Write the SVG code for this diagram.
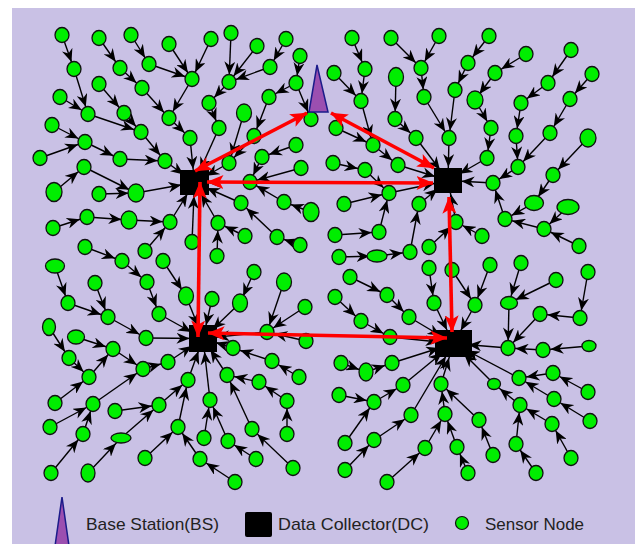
<svg xmlns="http://www.w3.org/2000/svg" width="635" height="544" viewBox="0 0 635 544">
<style>
.c path{stroke:#000;stroke-width:1.4;fill:none}
.s ellipse{fill:#00EE00;stroke:#111;stroke-width:1.3}
.dc rect{fill:#000}
.red path{stroke:#FF0000;stroke-width:3.6;fill:none;marker-start:url(#rh);marker-end:url(#rh)}
.lg{font-family:"Liberation Sans","Open Sans",Arial,sans-serif;font-size:17px;fill:#222}
</style>
<defs>
<marker id="ah" viewBox="0 0 21 11" markerWidth="21" markerHeight="11" refX="20.5" refY="5.5" orient="auto" markerUnits="userSpaceOnUse"><path d="M0,0 L13,5.5 L0,11 L4,5.5 z" fill="#000"/></marker>
<marker id="ad" viewBox="0 0 27 11" markerWidth="27" markerHeight="11" refX="26.5" refY="5.5" orient="auto" markerUnits="userSpaceOnUse"><path d="M0,0 L13,5.5 L0,11 L4,5.5 z" fill="#000"/></marker>
<marker id="ae" viewBox="0 0 28 11" markerWidth="28" markerHeight="11" refX="28" refY="5.5" orient="auto" markerUnits="userSpaceOnUse"><path d="M0,0 L13,5.5 L0,11 L4,5.5 z" fill="#000"/></marker>
<marker id="rh" viewBox="0 0 17 14" markerWidth="17" markerHeight="14" refX="16.5" refY="7" orient="auto-start-reverse" markerUnits="userSpaceOnUse"><path d="M0,0 L17,7 L0,14 L4,7 z" fill="#FF0000"/></marker>
</defs>
<rect x="0" y="0" width="635" height="544" fill="#FFFFFF"/>
<rect x="12" y="8" width="623" height="536" fill="#C9C1E5"/>

<g id="connectors" class="c">
<g marker-end="url(#ah)">
<path d="M62 35L74 69"/><path d="M74 69L88 114"/><path d="M99 38L120 68"/><path d="M120 68L142 88"/>
<path d="M131 35L149 64"/><path d="M149 64L192 79"/><path d="M169 44L192 79"/><path d="M211 39L192 79"/>
<path d="M192 79L169 118"/><path d="M142 88L169 118"/><path d="M60 97L88 114"/><path d="M99 84L124 113"/>
<path d="M124 113L141 132"/><path d="M88 114L141 132"/><path d="M169 118L190 138"/><path d="M141 132L165 161"/>
<path d="M52 125L85 142"/><path d="M40 158L85 142"/><path d="M85 142L120 159"/><path d="M120 159L165 161"/>
<path d="M54 192L84 167"/><path d="M84 167L136 193"/><path d="M99 194L136 193"/><path d="M53 228L87 217"/>
<path d="M87 217L129 220"/><path d="M129 220L170 222"/><path d="M145 251L170 222"/><path d="M85 247L122 261"/>
<path d="M209 103L219 128"/><path d="M217 256L218 223"/>
<path d="M231 33L229 82"/><path d="M257 46L229 82"/><path d="M270 67L229 82"/><path d="M286 39L270 67"/>
<path d="M229 82L209 103"/><path d="M300 56L296 83"/><path d="M296 83L269 97"/><path d="M296 83L311 119"/>
<path d="M269 97L254 136"/><path d="M244 113L229 163"/><path d="M254 136L229 163"/><path d="M262 157L250 182"/>
<path d="M296 145L262 157"/><path d="M301 168L250 182"/><path d="M284 202L250 182"/><path d="M311 212L284 202"/>
<path d="M277 237L241 203"/><path d="M300 245L277 237"/><path d="M245 236L218 223"/>
<path d="M352 38L365 69"/><path d="M365 69L361 101"/><path d="M334 73L361 101"/><path d="M361 101L373 145"/>
<path d="M336 128L373 145"/><path d="M391 38L421 68"/><path d="M396 77L395 119"/><path d="M395 119L416 138"/>
<path d="M421 68L424 97"/><path d="M373 145L398 165"/><path d="M333 163L365 170"/><path d="M365 170L389 193"/>
<path d="M344 204L389 193"/><path d="M379 232L389 193"/><path d="M335 235L379 232"/><path d="M410 252L419 204"/>
<path d="M377 256L410 252"/><path d="M339 257L377 256"/>
<path d="M439 36L421 68"/><path d="M489 36L468 63"/><path d="M468 63L455 90"/><path d="M455 90L449 138"/>
<path d="M424 97L449 138"/><path d="M526 54L495 73"/><path d="M495 73L475 100"/><path d="M475 100L491 128"/>
<path d="M491 128L487 158"/><path d="M571 50L548 83"/><path d="M548 83L521 103"/><path d="M521 103L516 136"/>
<path d="M516 136L518 167"/><path d="M592 74L570 99"/><path d="M570 99L550 133"/><path d="M550 133L518 167"/>
<path d="M518 167L493 183"/><path d="M588 138L553 175"/><path d="M553 175L534 203"/><path d="M534 203L505 219"/>
<path d="M568 207L544 229"/><path d="M544 229L505 219"/><path d="M505 219L493 183"/><path d="M579 246L544 229"/>
<path d="M482 236L456 222"/><path d="M429 247L456 222"/>
<path d="M55 266L68 303"/><path d="M95 283L108 317"/><path d="M68 303L108 317"/><path d="M108 317L146 338"/>
<path d="M122 261L147 282"/><path d="M147 282L159 314"/><path d="M163 261L186 296"/><path d="M49 327L69 358"/>
<path d="M76 337L113 349"/><path d="M113 349L143 369"/><path d="M69 358L89 377"/><path d="M89 377L113 349"/>
<path d="M143 369L168 362"/><path d="M55 403L89 377"/><path d="M50 427L93 404"/><path d="M93 404L143 369"/>
<path d="M83 434L93 404"/><path d="M88 473L121 438"/><path d="M51 473L83 434"/><path d="M121 438L159 405"/>
<path d="M115 411L159 405"/><path d="M159 405L188 380"/><path d="M145 458L178 427"/><path d="M178 427L188 380"/>
<path d="M200 459L178 427"/><path d="M204 438L210 400"/>
<path d="M254 272L240 303"/><path d="M284 282L267 332"/><path d="M305 307L267 332"/><path d="M306 341L267 332"/>
<path d="M272 361L233 348"/><path d="M299 377L272 361"/><path d="M259 382L227 375"/><path d="M287 401L259 382"/>
<path d="M287 434L287 401"/><path d="M252 429L227 375"/><path d="M228 441L210 400"/><path d="M256 459L228 441"/>
<path d="M293 468L252 429"/><path d="M235 482L200 459"/>
<path d="M350 277L387 295"/><path d="M387 295L409 317"/><path d="M335 297L361 321"/><path d="M361 321L390 337"/>
<path d="M341 363L366 372"/><path d="M366 372L392 363"/><path d="M339 395L374 402"/><path d="M374 402L403 385"/>
<path d="M345 443L374 402"/><path d="M345 470L374 440"/><path d="M374 440L411 415"/><path d="M387 482L425 448"/>
<path d="M425 448L445 414"/>
<path d="M429 268L434 303"/><path d="M452 270L475 305"/><path d="M490 265L475 305"/><path d="M521 263L509 303"/>
<path d="M556 280L509 303"/><path d="M509 303L508 348"/><path d="M540 314L508 348"/><path d="M580 318L540 314"/>
<path d="M588 272L580 318"/><path d="M589 346L543 350"/><path d="M543 350L508 348"/><path d="M553 373L519 378"/>
<path d="M588 392L553 373"/><path d="M554 399L519 378"/><path d="M590 421L554 399"/><path d="M520 405L494 384"/>
<path d="M552 424L520 405"/><path d="M571 458L552 424"/><path d="M516 444L520 405"/><path d="M536 473L516 444"/>
<path d="M445 414L441 384"/><path d="M479 420L441 384"/><path d="M457 447L445 414"/><path d="M468 473L457 447"/>
<path d="M493 455L479 420"/>
</g>
<g marker-end="url(#ad)">
<path d="M190 138L194.5 182.5"/><path d="M165 161L194.5 182.5"/><path d="M136 193L194.5 182.5"/><path d="M170 222L194.5 182.5"/>
<path d="M192 242L194.5 182.5"/><path d="M218 223L194.5 182.5"/><path d="M219 128L194.5 182.5"/><path d="M229 163L194.5 182.5"/>
<path d="M250 182L194.5 182.5"/><path d="M241 203L194.5 182.5"/>
<path d="M416 138L448 180.5"/><path d="M398 165L448 180.5"/><path d="M389 193L448 180.5"/><path d="M419 204L448 180.5"/>
<path d="M487 158L448 180.5"/><path d="M449 138L448 180.5"/><path d="M493 183L448 180.5"/><path d="M456 222L448 180.5"/>
<path d="M186 296L203 338.5"/><path d="M159 314L203 338.5"/><path d="M146 338L203 338.5"/><path d="M168 362L203 338.5"/>
<path d="M188 380L203 338.5"/><path d="M210 400L203 338.5"/><path d="M212 299L203 338.5"/><path d="M240 303L203 338.5"/>
<path d="M267 332L203 338.5"/><path d="M233 348L203 338.5"/><path d="M227 375L203 338.5"/>
</g>
<g marker-end="url(#ae)">
<path d="M409 317L453.5 343.5"/><path d="M390 337L453.5 343.5"/><path d="M392 363L453.5 343.5"/><path d="M403 385L453.5 343.5"/>
<path d="M411 415L453.5 343.5"/><path d="M434 303L453.5 343.5"/><path d="M475 305L453.5 343.5"/><path d="M508 348L453.5 343.5"/>
<path d="M519 378L453.5 343.5"/><path d="M494 384L453.5 343.5"/><path d="M441 384L453.5 343.5"/>
</g>
</g>

<g id="sensors" class="s">
<g id="a1"><ellipse cx="62" cy="35" rx="7" ry="7.5"/></g>
<g id="a2"><ellipse cx="74" cy="69" rx="7" ry="7.5"/></g>
<g id="a3"><ellipse cx="99" cy="38" rx="7" ry="7.5"/></g>
<g id="a4"><ellipse cx="120" cy="68" rx="7" ry="7.5"/></g>
<g id="a5"><ellipse cx="131" cy="35" rx="7" ry="7.5"/></g>
<g id="a6"><ellipse cx="149" cy="64" rx="7" ry="7.5"/></g>
<g id="a7"><ellipse cx="169" cy="44" rx="7" ry="7.5"/></g>
<g id="a8"><ellipse cx="211" cy="39" rx="7" ry="7.5"/></g>
<g id="a9"><ellipse cx="192" cy="79" rx="7" ry="7.5"/></g>
<g id="a10"><ellipse cx="60" cy="97" rx="7" ry="7.5"/></g>
<g id="a11"><ellipse cx="88" cy="114" rx="7" ry="7.5"/></g>
<g id="a12"><ellipse cx="99" cy="84" rx="7" ry="7.5"/></g>
<g id="a13"><ellipse cx="124" cy="113" rx="7" ry="7.5"/></g>
<g id="a14"><ellipse cx="142" cy="88" rx="7" ry="7.5"/></g>
<g id="a15"><ellipse cx="169" cy="118" rx="7" ry="7.5"/></g>
<g id="a16"><ellipse cx="209" cy="103" rx="7" ry="7.5"/></g>
<g id="a17"><ellipse cx="52" cy="125" rx="7" ry="7.5"/></g>
<g id="a18"><ellipse cx="85" cy="142" rx="7" ry="7.5"/></g>
<g id="a19"><ellipse cx="141" cy="132" rx="7" ry="7.5"/></g>
<g id="a20"><ellipse cx="190" cy="138" rx="7" ry="7.5"/></g>
<g id="a21"><ellipse cx="40" cy="158" rx="7" ry="7.5"/></g>
<g id="a22"><ellipse cx="120" cy="159" rx="7" ry="7.5"/></g>
<g id="a23"><ellipse cx="165" cy="161" rx="7" ry="7.5"/></g>
<g id="a24"><ellipse cx="84" cy="167" rx="7" ry="7.5"/></g>
<g id="a25"><ellipse cx="54" cy="192" rx="8" ry="9.5"/></g>
<g id="a26"><ellipse cx="99" cy="194" rx="7" ry="7.5"/></g>
<g id="a27"><ellipse cx="136" cy="193" rx="8" ry="9"/></g>
<g id="a28"><ellipse cx="53" cy="228" rx="7" ry="7.5"/></g>
<g id="a29"><ellipse cx="87" cy="217" rx="7" ry="7.5"/></g>
<g id="a30"><ellipse cx="129" cy="220" rx="8" ry="9"/></g>
<g id="a31"><ellipse cx="170" cy="222" rx="7" ry="7.5"/></g>
<g id="a32"><ellipse cx="85" cy="247" rx="7" ry="7.5"/></g>
<g id="a33"><ellipse cx="145" cy="251" rx="7" ry="7.5"/></g>
<g id="a34"><ellipse cx="192" cy="242" rx="7" ry="7.5"/></g>
<g id="a35"><ellipse cx="218" cy="223" rx="7" ry="7.5"/></g>
<g id="a36"><ellipse cx="219" cy="128" rx="7" ry="7.5"/></g>
<g id="a37"><ellipse cx="217" cy="256" rx="7" ry="7.5"/></g>
<g id="b2"><ellipse cx="231" cy="33" rx="7" ry="7.5"/></g>
<g id="b3"><ellipse cx="257" cy="46" rx="7" ry="7.5"/></g>
<g id="b4"><ellipse cx="286" cy="39" rx="7" ry="7.5"/></g>
<g id="b5"><ellipse cx="300" cy="56" rx="7" ry="7.5"/></g>
<g id="b6"><ellipse cx="229" cy="82" rx="7" ry="7.5"/></g>
<g id="b7"><ellipse cx="270" cy="67" rx="7" ry="7.5"/></g>
<g id="b8"><ellipse cx="269" cy="97" rx="7" ry="7.5"/></g>
<g id="b9"><ellipse cx="296" cy="83" rx="7" ry="7.5"/></g>
<g id="b10"><ellipse cx="244" cy="113" rx="7.5" ry="9"/></g>
<g id="b13"><ellipse cx="254" cy="136" rx="7" ry="7.5"/></g>
<g id="b14"><ellipse cx="311" cy="119" rx="7" ry="7.5"/></g>
<g id="b15"><ellipse cx="336" cy="128" rx="7" ry="7.5"/></g>
<g id="b16"><ellipse cx="229" cy="163" rx="7" ry="7.5"/></g>
<g id="b17"><ellipse cx="262" cy="157" rx="7" ry="7.5"/></g>
<g id="b18"><ellipse cx="296" cy="145" rx="7" ry="7.5"/></g>
<g id="b19"><ellipse cx="301" cy="168" rx="7" ry="7.5"/></g>
<g id="b20"><ellipse cx="250" cy="182" rx="7" ry="7.5"/></g>
<g id="b21"><ellipse cx="241" cy="203" rx="7" ry="7.5"/></g>
<g id="b22"><ellipse cx="284" cy="202" rx="7" ry="7.5"/></g>
<g id="b23"><ellipse cx="311" cy="212" rx="8" ry="9.5"/></g>
<g id="b25"><ellipse cx="245" cy="236" rx="7" ry="7.5"/></g>
<g id="b26"><ellipse cx="277" cy="237" rx="7" ry="7.5"/></g>
<g id="b27"><ellipse cx="300" cy="245" rx="7" ry="7.5"/></g>
<g id="b29"><ellipse cx="352" cy="38" rx="7" ry="7.5"/></g>
<g id="b30"><ellipse cx="365" cy="69" rx="7" ry="7.5"/></g>
<g id="b31"><ellipse cx="334" cy="73" rx="7" ry="7.5"/></g>
<g id="b32"><ellipse cx="361" cy="101" rx="7" ry="7.5"/></g>
<g id="b33"><ellipse cx="391" cy="38" rx="7" ry="7.5"/></g>
<g id="b34"><ellipse cx="396" cy="77" rx="7.5" ry="9.5"/></g>
<g id="b35"><ellipse cx="421" cy="68" rx="7" ry="7.5"/></g>
<g id="b36"><ellipse cx="395" cy="119" rx="7" ry="7.5"/></g>
<g id="b37"><ellipse cx="416" cy="138" rx="7" ry="7.5"/></g>
<g id="b38"><ellipse cx="373" cy="145" rx="7" ry="7.5"/></g>
<g id="b39"><ellipse cx="333" cy="163" rx="7" ry="7.5"/></g>
<g id="b40"><ellipse cx="365" cy="170" rx="7" ry="7.5"/></g>
<g id="b41"><ellipse cx="398" cy="165" rx="7" ry="7.5"/></g>
<g id="b42"><ellipse cx="389" cy="193" rx="7" ry="7.5"/></g>
<g id="b43"><ellipse cx="344" cy="204" rx="7" ry="7.5"/></g>
<g id="b44"><ellipse cx="419" cy="204" rx="7" ry="7.5"/></g>
<g id="b45"><ellipse cx="379" cy="232" rx="7" ry="7.5"/></g>
<g id="b46"><ellipse cx="335" cy="235" rx="7" ry="7.5"/></g>
<g id="b47"><ellipse cx="410" cy="252" rx="7" ry="7.5"/></g>
<g id="b48"><ellipse cx="377" cy="256" rx="10" ry="6"/></g>
<g id="b49"><ellipse cx="339" cy="257" rx="7" ry="7.5"/></g>
<g id="c1"><ellipse cx="439" cy="36" rx="7" ry="7.5"/></g>
<g id="c2"><ellipse cx="489" cy="36" rx="7" ry="7.5"/></g>
<g id="c4"><ellipse cx="468" cy="63" rx="7" ry="7.5"/></g>
<g id="c5"><ellipse cx="455" cy="90" rx="7" ry="7.5"/></g>
<g id="c6"><ellipse cx="495" cy="73" rx="7" ry="7.5"/></g>
<g id="c7"><ellipse cx="526" cy="54" rx="7" ry="7.5"/></g>
<g id="c8"><ellipse cx="571" cy="50" rx="7" ry="7.5"/></g>
<g id="c9"><ellipse cx="548" cy="83" rx="7" ry="7.5"/></g>
<g id="c10"><ellipse cx="592" cy="74" rx="7" ry="7.5"/></g>
<g id="c11"><ellipse cx="424" cy="97" rx="7" ry="7.5"/></g>
<g id="c12"><ellipse cx="475" cy="100" rx="8" ry="9"/></g>
<g id="c13"><ellipse cx="521" cy="103" rx="7" ry="7.5"/></g>
<g id="c14"><ellipse cx="570" cy="99" rx="7" ry="7.5"/></g>
<g id="c15"><ellipse cx="449" cy="138" rx="7" ry="7.5"/></g>
<g id="c16"><ellipse cx="491" cy="128" rx="7" ry="7.5"/></g>
<g id="c17"><ellipse cx="516" cy="136" rx="7" ry="7.5"/></g>
<g id="c18"><ellipse cx="550" cy="133" rx="7" ry="7.5"/></g>
<g id="c19"><ellipse cx="588" cy="138" rx="8" ry="9"/></g>
<g id="c20"><ellipse cx="487" cy="158" rx="7" ry="7.5"/></g>
<g id="c21"><ellipse cx="518" cy="167" rx="7" ry="7.5"/></g>
<g id="c22"><ellipse cx="553" cy="175" rx="7" ry="7.5"/></g>
<g id="c23"><ellipse cx="493" cy="183" rx="7" ry="7.5"/></g>
<g id="c24"><ellipse cx="534" cy="203" rx="9.5" ry="7.5"/></g>
<g id="c25"><ellipse cx="568" cy="207" rx="11" ry="7.5"/></g>
<g id="c26"><ellipse cx="505" cy="219" rx="7" ry="7.5"/></g>
<g id="c27"><ellipse cx="544" cy="229" rx="7" ry="7.5"/></g>
<g id="c28"><ellipse cx="579" cy="246" rx="7" ry="7.5"/></g>
<g id="c29"><ellipse cx="456" cy="222" rx="7" ry="7.5"/></g>
<g id="c30"><ellipse cx="482" cy="236" rx="7" ry="7.5"/></g>
<g id="c31"><ellipse cx="429" cy="247" rx="7" ry="7.5"/></g>
<g id="d1"><ellipse cx="55" cy="266" rx="9.5" ry="7"/></g>
<g id="d2"><ellipse cx="95" cy="283" rx="7" ry="7.5"/></g>
<g id="d3"><ellipse cx="122" cy="261" rx="7" ry="7.5"/></g>
<g id="d4"><ellipse cx="147" cy="282" rx="7" ry="7.5"/></g>
<g id="d5"><ellipse cx="163" cy="261" rx="7" ry="7.5"/></g>
<g id="d6"><ellipse cx="186" cy="296" rx="7.5" ry="9"/></g>
<g id="d7"><ellipse cx="212" cy="299" rx="7" ry="7.5"/></g>
<g id="d8"><ellipse cx="68" cy="303" rx="7" ry="7.5"/></g>
<g id="d9"><ellipse cx="108" cy="317" rx="7" ry="7.5"/></g>
<g id="d10"><ellipse cx="159" cy="314" rx="7" ry="7.5"/></g>
<g id="d11"><ellipse cx="49" cy="327" rx="6.5" ry="8.5"/></g>
<g id="d12"><ellipse cx="76" cy="337" rx="8.5" ry="7"/></g>
<g id="d13"><ellipse cx="146" cy="338" rx="7" ry="7.5"/></g>
<g id="d14"><ellipse cx="113" cy="349" rx="7" ry="7.5"/></g>
<g id="d15"><ellipse cx="69" cy="358" rx="7" ry="7.5"/></g>
<g id="d16"><ellipse cx="89" cy="377" rx="7" ry="7.5"/></g>
<g id="d17"><ellipse cx="143" cy="369" rx="7" ry="7.5"/></g>
<g id="d18"><ellipse cx="168" cy="362" rx="7" ry="7.5"/></g>
<g id="d19"><ellipse cx="55" cy="403" rx="7" ry="7.5"/></g>
<g id="d20"><ellipse cx="93" cy="404" rx="7" ry="7.5"/></g>
<g id="d21"><ellipse cx="115" cy="411" rx="7" ry="7.5"/></g>
<g id="d22"><ellipse cx="159" cy="405" rx="7" ry="7.5"/></g>
<g id="d23"><ellipse cx="188" cy="380" rx="7" ry="7.5"/></g>
<g id="d24"><ellipse cx="210" cy="400" rx="7" ry="7.5"/></g>
<g id="d25"><ellipse cx="50" cy="427" rx="7" ry="7.5"/></g>
<g id="d26"><ellipse cx="83" cy="434" rx="7" ry="7.5"/></g>
<g id="d27"><ellipse cx="121" cy="438" rx="10" ry="5"/></g>
<g id="d28"><ellipse cx="178" cy="427" rx="7" ry="7.5"/></g>
<g id="d29"><ellipse cx="204" cy="438" rx="7" ry="7.5"/></g>
<g id="d30"><ellipse cx="145" cy="458" rx="7" ry="7.5"/></g>
<g id="d31"><ellipse cx="200" cy="459" rx="7" ry="7.5"/></g>
<g id="d32"><ellipse cx="51" cy="473" rx="7" ry="7.5"/></g>
<g id="d33"><ellipse cx="88" cy="473" rx="7" ry="9"/></g>
<g id="e2"><ellipse cx="254" cy="272" rx="7" ry="7.5"/></g>
<g id="e3"><ellipse cx="284" cy="282" rx="7.5" ry="9"/></g>
<g id="e5"><ellipse cx="240" cy="303" rx="7.5" ry="9"/></g>
<g id="e6"><ellipse cx="305" cy="307" rx="7" ry="7.5"/></g>
<g id="e7"><ellipse cx="267" cy="332" rx="7" ry="7.5"/></g>
<g id="e8"><ellipse cx="306" cy="341" rx="7" ry="7.5"/></g>
<g id="e9"><ellipse cx="233" cy="348" rx="7" ry="7.5"/></g>
<g id="e10"><ellipse cx="272" cy="361" rx="7" ry="7.5"/></g>
<g id="e11"><ellipse cx="299" cy="377" rx="7" ry="7.5"/></g>
<g id="e12"><ellipse cx="227" cy="375" rx="7" ry="7.5"/></g>
<g id="e13"><ellipse cx="259" cy="382" rx="7" ry="7.5"/></g>
<g id="e15"><ellipse cx="287" cy="401" rx="7" ry="7.5"/></g>
<g id="e16"><ellipse cx="252" cy="429" rx="7" ry="7.5"/></g>
<g id="e17"><ellipse cx="287" cy="434" rx="7" ry="7.5"/></g>
<g id="e18"><ellipse cx="228" cy="441" rx="7" ry="7.5"/></g>
<g id="e19"><ellipse cx="256" cy="459" rx="7" ry="7.5"/></g>
<g id="e20"><ellipse cx="293" cy="468" rx="7" ry="7.5"/></g>
<g id="e21"><ellipse cx="235" cy="482" rx="7" ry="7.5"/></g>
<g id="e25"><ellipse cx="350" cy="277" rx="7" ry="7.5"/></g>
<g id="e26"><ellipse cx="387" cy="295" rx="7" ry="7.5"/></g>
<g id="e27"><ellipse cx="409" cy="317" rx="7" ry="7.5"/></g>
<g id="e28"><ellipse cx="335" cy="297" rx="7" ry="7.5"/></g>
<g id="e29"><ellipse cx="361" cy="321" rx="7" ry="7.5"/></g>
<g id="e30"><ellipse cx="390" cy="337" rx="7" ry="7.5"/></g>
<g id="e31"><ellipse cx="341" cy="363" rx="7" ry="7.5"/></g>
<g id="e32"><ellipse cx="366" cy="372" rx="7" ry="9"/></g>
<g id="e33"><ellipse cx="392" cy="363" rx="7" ry="7.5"/></g>
<g id="e34"><ellipse cx="403" cy="385" rx="7" ry="7.5"/></g>
<g id="e35"><ellipse cx="339" cy="395" rx="7" ry="7.5"/></g>
<g id="e36"><ellipse cx="374" cy="402" rx="7" ry="7.5"/></g>
<g id="e37"><ellipse cx="411" cy="415" rx="7" ry="7.5"/></g>
<g id="e38"><ellipse cx="345" cy="443" rx="7" ry="7.5"/></g>
<g id="e39"><ellipse cx="374" cy="440" rx="7" ry="7.5"/></g>
<g id="e40"><ellipse cx="345" cy="470" rx="7" ry="7.5"/></g>
<g id="e41"><ellipse cx="387" cy="482" rx="7" ry="7.5"/></g>
<g id="e42"><ellipse cx="425" cy="448" rx="7" ry="7.5"/></g>
<g id="f1"><ellipse cx="429" cy="268" rx="7" ry="7.5"/></g>
<g id="f2"><ellipse cx="452" cy="270" rx="7" ry="7.5"/></g>
<g id="f3"><ellipse cx="490" cy="265" rx="7" ry="7.5"/></g>
<g id="f4"><ellipse cx="521" cy="263" rx="7" ry="7.5"/></g>
<g id="f5"><ellipse cx="588" cy="272" rx="7" ry="7.5"/></g>
<g id="f6"><ellipse cx="434" cy="303" rx="7" ry="7.5"/></g>
<g id="f7"><ellipse cx="475" cy="305" rx="7" ry="7.5"/></g>
<g id="f8"><ellipse cx="509" cy="303" rx="8.5" ry="6.5"/></g>
<g id="f9"><ellipse cx="556" cy="280" rx="7" ry="7.5"/></g>
<g id="f10"><ellipse cx="540" cy="314" rx="7" ry="7.5"/></g>
<g id="f11"><ellipse cx="580" cy="318" rx="7" ry="7.5"/></g>
<g id="f12"><ellipse cx="508" cy="348" rx="7" ry="7.5"/></g>
<g id="f13"><ellipse cx="543" cy="350" rx="7" ry="7.5"/></g>
<g id="f14"><ellipse cx="589" cy="346" rx="7" ry="5.5"/></g>
<g id="f15"><ellipse cx="519" cy="378" rx="7" ry="7.5"/></g>
<g id="f16"><ellipse cx="553" cy="373" rx="7" ry="7.5"/></g>
<g id="f17"><ellipse cx="494" cy="384" rx="6.5" ry="5.5"/></g>
<g id="f18"><ellipse cx="554" cy="399" rx="7" ry="7.5"/></g>
<g id="f19"><ellipse cx="588" cy="392" rx="7" ry="7.5"/></g>
<g id="f20"><ellipse cx="441" cy="384" rx="7" ry="7.5"/></g>
<g id="f21"><ellipse cx="520" cy="405" rx="7" ry="7.5"/></g>
<g id="f22"><ellipse cx="445" cy="414" rx="7" ry="7.5"/></g>
<g id="f23"><ellipse cx="479" cy="420" rx="7" ry="7.5"/></g>
<g id="f24"><ellipse cx="552" cy="424" rx="7" ry="7.5"/></g>
<g id="f25"><ellipse cx="590" cy="421" rx="7" ry="7.5"/></g>
<g id="f27"><ellipse cx="457" cy="447" rx="7" ry="7.5"/></g>
<g id="f28"><ellipse cx="493" cy="455" rx="7" ry="7.5"/></g>
<g id="f29"><ellipse cx="516" cy="444" rx="7" ry="7.5"/></g>
<g id="f30"><ellipse cx="571" cy="458" rx="7" ry="7.5"/></g>
<g id="f31"><ellipse cx="468" cy="473" rx="7" ry="7.5"/></g>
<g id="f32"><ellipse cx="536" cy="473" rx="7" ry="7.5"/></g>
</g>

<g class="dc">
<g id="dc1"><rect x="180" y="170" width="29" height="25"/></g>
<g id="dc2"><rect x="434" y="168" width="28" height="25"/></g>
<g id="dc3"><rect x="189" y="325" width="28" height="27"/></g>
<g id="dc4"><rect x="435" y="330" width="37" height="27"/></g>
</g>

<g id="backbone" class="red">
<path d="M195 171L307 113"/>
<path d="M331 113L434 168"/>
<path d="M207 182L433 183"/>
<path d="M200 182L198 337"/>
<path d="M208 333L447 338"/>
<path d="M449 197L452 332"/>
</g>

<g id="bs"><path d="M317 65L328 112L309 112Z" fill="#9B4FB0" stroke="#1B1B8A" stroke-width="1.5"/></g>

<g id="legend">
<path d="M55 546L62 497L69 546Z" fill="#9B4FB0" stroke="#1B1B8A" stroke-width="1.5"/>
<text class="lg" x="86" y="530" textLength="133" lengthAdjust="spacingAndGlyphs">Base Station(BS)</text>
<rect x="245" y="512" width="27" height="25" rx="2" fill="#000"/>
<text class="lg" x="278" y="530" textLength="151" lengthAdjust="spacingAndGlyphs">Data Collector(DC)</text>
<ellipse cx="462" cy="523" rx="6.5" ry="6.5" fill="#00EE00" stroke="#111" stroke-width="1.2"/>
<text class="lg" x="485" y="530" textLength="99" lengthAdjust="spacingAndGlyphs">Sensor Node</text>
</g>
</svg>
